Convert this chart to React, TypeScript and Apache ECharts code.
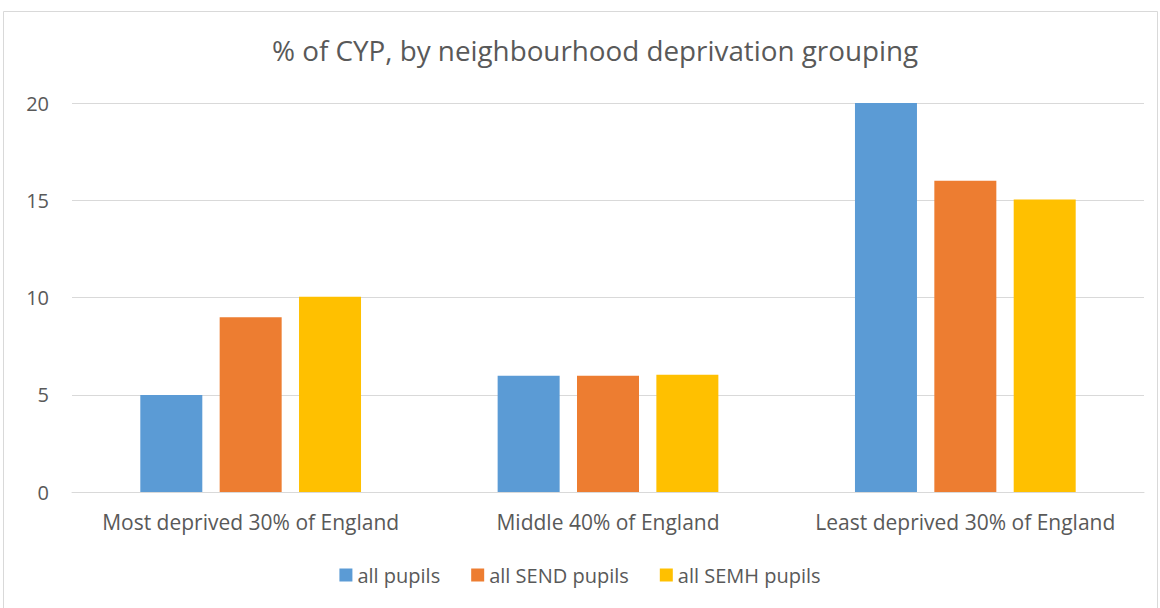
import React, { useEffect, useRef } from "react";
import * as echarts from "echarts";

const categories = ["Most deprived 30% of England", "Middle 40% of England", "Least deprived 30% of England"];
const seriesNames = ["all pupils", "all SEND pupils", "all SEMH pupils"];
const allPupils = [4.99, 5.98, 20.0];
const allSend = [8.98, 5.98, 16.0];
const allSemh = [10.04, 6.03, 15.04];
const colors = ["#5b9bd5", "#ed7d31", "#ffc000"];
const yTicks = { min: 0, max: 20, interval: 5 };
const FONT = "'Open Sans', sans-serif";
const TEXT = "#595959";

export default function App() {
  const ref = useRef<HTMLDivElement>(null);
  useEffect(() => {
    document.body.style.margin = "0";
    const chart = echarts.init(ref.current!, null, { renderer: "svg" });
    const data = [allPupils, allSend, allSemh];
    chart.setOption({
      animation: false,
      backgroundColor: "#ffffff",
      title: {
        text: "% of CYP, by neighbourhood deprivation grouping",
        left: 267,
        top: 31,
        textStyle: { fontFamily: FONT, fontSize: 27.8, fontWeight: "normal", color: TEXT },
      },
      graphic: [
        {
          type: "rect",
          shape: { x: 3.5, y: 11.5, width: 1154, height: 640 },
          style: { fill: "none", stroke: "#d9d9d9", lineWidth: 1 },
          silent: true,
        },
      ],
      legend: {
        data: seriesNames,
        bottom: 18,
        left: "center",
        itemWidth: 13,
        itemHeight: 13,
        itemGap: 31,
        icon: "rect",
        textStyle: { fontFamily: FONT, fontSize: 20, color: TEXT },
      },
      grid: { left: 72, right: 16, top: 103, bottom: 116 },
      xAxis: {
        type: "category",
        data: categories,
        axisLine: { lineStyle: { color: "#d9d9d9", width: 1 } },
        axisTick: { show: false },
        axisLabel: { fontFamily: FONT, fontSize: 21, color: TEXT, margin: 19, interval: 0, hideOverlap: false },
      },
      yAxis: {
        type: "value",
        min: yTicks.min,
        max: yTicks.max,
        interval: yTicks.interval,
        axisLine: { show: false },
        axisTick: { show: false },
        axisLabel: { fontFamily: FONT, fontSize: 20, color: TEXT, margin: 23 },
        splitLine: { lineStyle: { color: "#d9d9d9", width: 1 } },
      },
      series: seriesNames.map((name, i) => ({
        name,
        type: "bar",
        data: data[i],
        barWidth: 62,
        barGap: "28%",
        itemStyle: { color: colors[i] },
      })),
    });
    return () => chart.dispose();
  }, []);
  return <div ref={ref} style={{ position: "fixed", left: 0, top: 0, width: 1160, height: 608 }} />;
}
